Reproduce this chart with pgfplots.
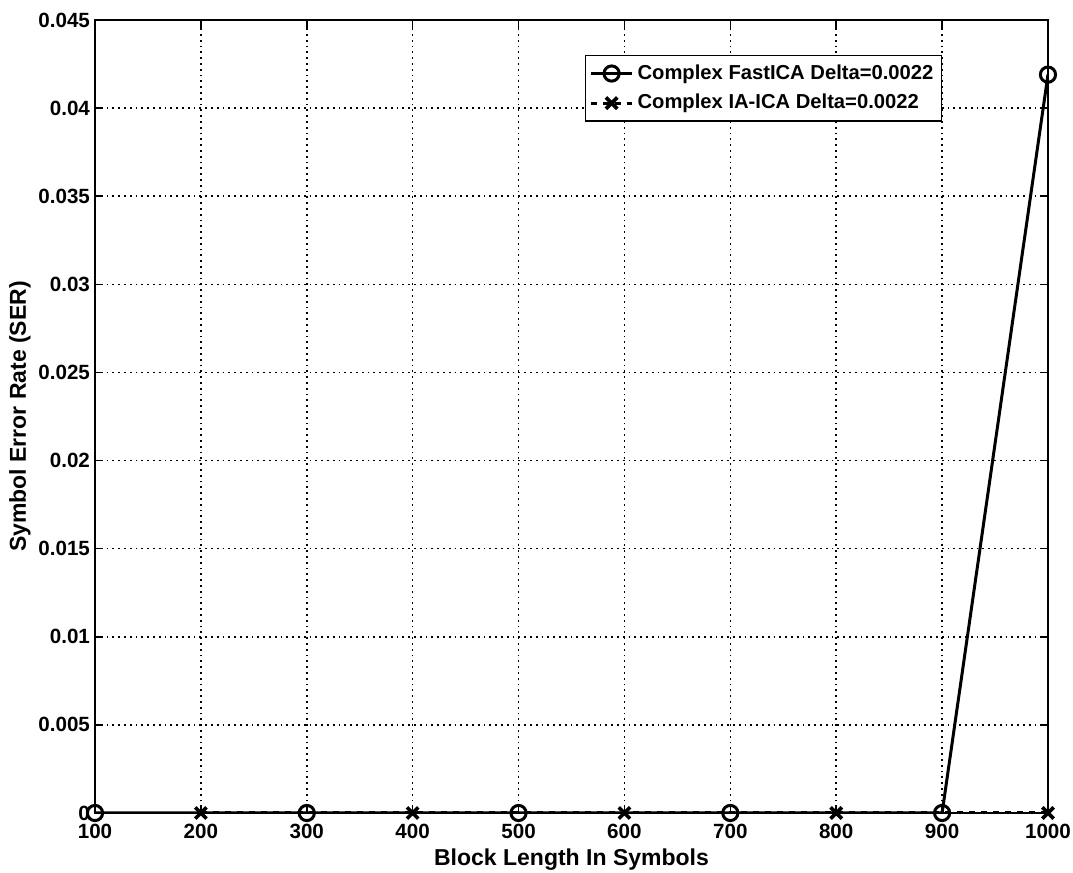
\documentclass[border=0pt]{standalone}
\usepackage{fontspec}
\setmainfont{Liberation Sans}
\usepackage{pgfplots}
\pgfplotsset{compat=1.18}
\begin{document}
\begin{tikzpicture}
\useasboundingbox (-47.5pt,-30pt) rectangle (489pt,406.5pt);
\begin{axis}[
  scale only axis,
  width=476.5pt, height=396.5pt,
  xmin=100, xmax=1000, ymin=0, ymax=0.045,
  xtick={100,200,...,1000},
  xticklabels={100,200,300,400,500,600,700,800,900,1000},
  ytick={0,0.005,0.01,0.015,0.02,0.025,0.03,0.035,0.04,0.045},
  yticklabels={0,0.005,0.01,0.015,0.02,0.025,0.03,0.035,0.04,0.045},
  scaled y ticks=false,
  /pgf/number format/assume math mode=true,
  tick label style={font=\fontsize{10.3pt}{12pt}\selectfont\bfseries, black},
  xticklabel style={yshift=-2pt},
  yticklabel style={xshift=1pt},
  label style={font=\fontsize{11.5pt}{13pt}\selectfont\bfseries},
  xlabel={Block Length In Symbols},
  ylabel={Symbol Error Rate (SER)},
  xlabel style={yshift=2pt},
  ylabel style={yshift=-3pt},
  grid=major,
  major grid style={black, dash pattern=on 0.9pt off 2pt, line width=0.8pt},
  axis line style={black, line width=1pt},
  tick style={black, line width=0.8pt},
  tick align=inside,
  major tick length=4pt,
  legend style={at={(0.514,0.956)}, anchor=north west, draw=black, line width=0.8pt,
    font=\fontsize{10.1pt}{12pt}\selectfont\bfseries, inner xsep=2pt, inner ysep=2.5pt, row sep=2pt,
    legend cell align=left},
  legend image code/.code={
    \draw[mark repeat=2,mark phase=2] plot coordinates {(0cm,0cm) (0.36cm,0cm) (0.72cm,0cm)};
  },
]
\addplot[black, line width=1.5pt, mark=o, mark size=3.8pt, mark options={solid, line width=1.5pt}]
  coordinates {(100,0) (300,0) (500,0) (700,0) (900,0) (1000,0.0419)};
\addlegendentry{Complex FastICA Delta=0.0022}
\addplot[black, line width=1.5pt, dashed, mark=x, mark size=4pt, mark options={solid, line width=1.8pt}]
  coordinates {(200,0) (400,0) (600,0) (800,0) (1000,0)};
\addlegendentry{Complex IA-ICA Delta=0.0022}
\end{axis}
\end{tikzpicture}
\end{document}
